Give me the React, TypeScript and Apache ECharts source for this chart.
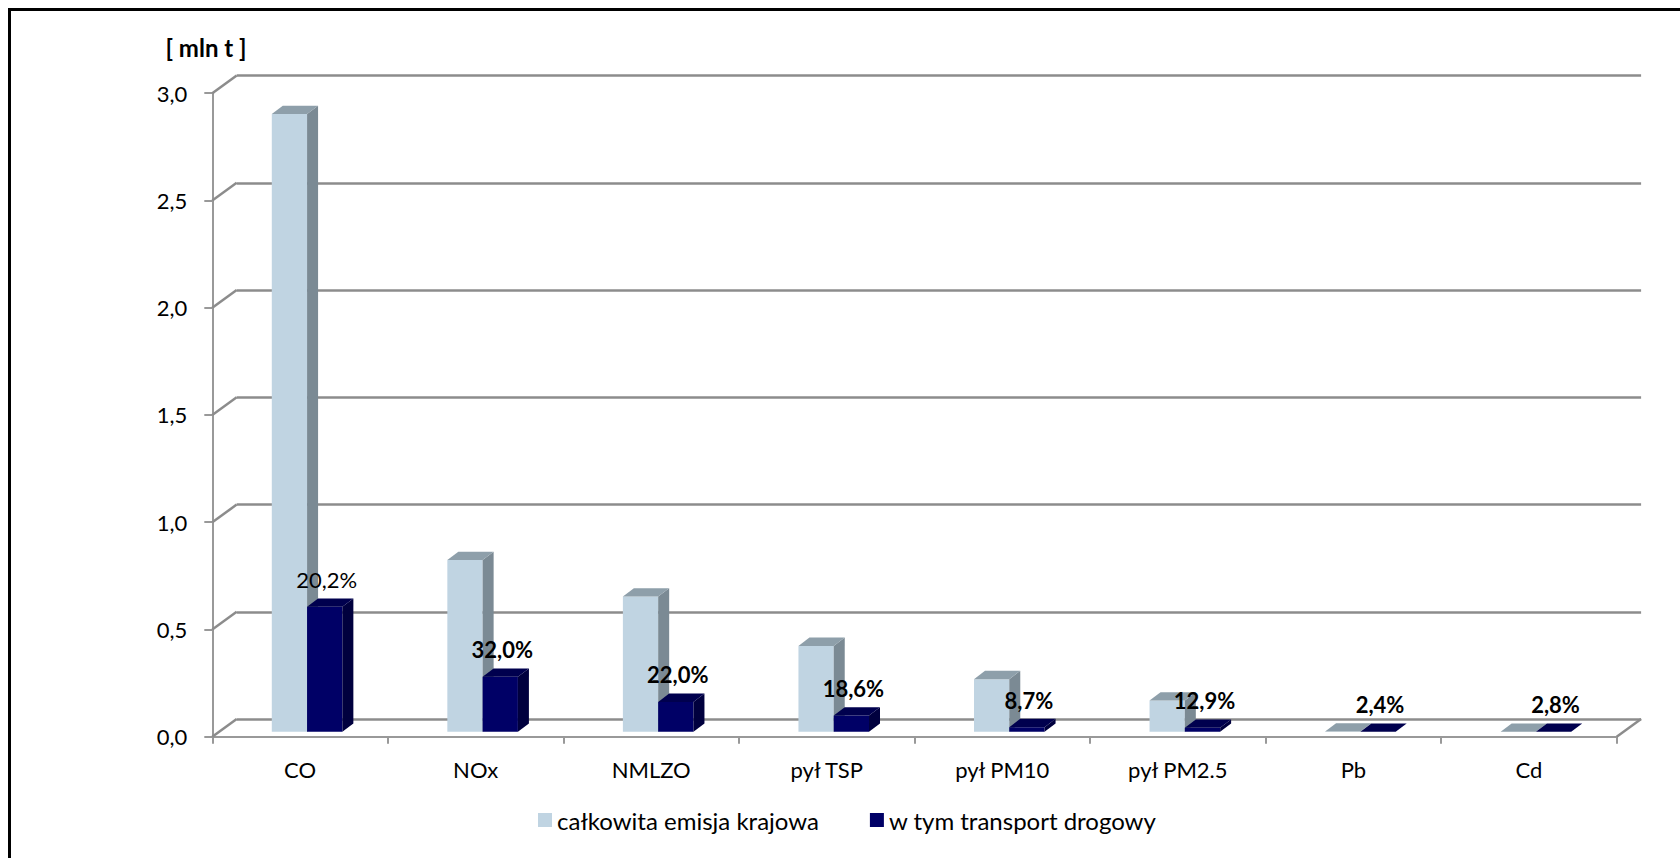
import React, { useEffect, useRef } from "react";
import * as echarts from "echarts";

const categories = ["CO", "NOx", "NMLZO", "pył TSP", "pył PM10", "pył PM2.5", "Pb", "Cd"];
const totalEmission = [2.88, 0.8, 0.63, 0.4, 0.245, 0.145, 0.0005, 0.00002];
const roadTransport = [0.582, 0.256, 0.139, 0.075, 0.0213, 0.0187, 0.000012, 0.0000006];
const shareLabels = ["20,2%", "32,0%", "22,0%", "18,6%", "8,7%", "12,9%", "2,4%", "2,8%"];
const yTicks = [0, 0.5, 1, 1.5, 2, 2.5, 3];
const seriesNames = ["całkowita emisja krajowa", "w tym transport drogowy"];
const unitLabel = "[ mln t ]";

const FONT = "Lato";
const DX = 24.4; // wall depth
const DY = -17.6;
const FDX = 7; // bar front face depth
const FDY = -5;
const BDX = 11; // bar depth
const BDY = -8.3;

const lightColors = { front: "#C0D4E2", side: "#7B8A94", top: "#8E9FAA" };
const darkColors = { front: "#000066", side: "#00003E", top: "#00004E" };

function makeBarRender(side: "left" | "right", colors: any, labels: string[] | null) {
  return (params: any, api: any) => {
    const idx = api.value(0);
    const val = api.value(1);
    const base = api.coord([idx, 0]);
    const top = api.coord([idx, val]);
    const band = api.size([1, 0])[0];
    const w = band * 0.201;
    const cx = base[0] + FDX;
    const xl = side === "left" ? cx - w : cx;
    const xr = xl + w;
    const y0 = base[1] + FDY;
    const y1 = top[1] + FDY;
    const children: any[] = [
      {
        type: "rect",
        shape: { x: xl, y: y1, width: w, height: Math.max(0, y0 - y1) },
        style: { fill: colors.front },
      },
      {
        type: "polygon",
        shape: {
          points: [
            [xr, y1],
            [xr + BDX, y1 + BDY],
            [xr + BDX, y0 + BDY],
            [xr, y0],
          ],
        },
        style: { fill: colors.side },
      },
      {
        type: "polygon",
        shape: {
          points: [
            [xl, y1],
            [xr, y1],
            [xr + BDX, y1 + BDY],
            [xl + BDX, y1 + BDY],
          ],
        },
        style: { fill: colors.top },
      },
    ];
    if (labels) {
      children.push({
        type: "text",
        style: {
          text: labels[params.dataIndex],
          x: (xl + xr) / 2 + 2,
          y: y1 - 27,
          align: "center",
          verticalAlign: "middle",
          fontFamily: FONT,
          fontSize: 22,
          fontWeight: params.dataIndex === 0 ? "normal" : "bold",
          fill: "#000",
        },
        z2: 10,
      });
    }
    return { type: "group", children };
  };
}

export default function App() {
  const ref = useRef<HTMLDivElement>(null);
  useEffect(() => {
    if (!ref.current) return;
    const chart = echarts.init(ref.current, null, { renderer: "svg" });
    const lineColor = "#8C8C8C";
    chart.setOption({
      animation: false,
      backgroundColor: "#fff",
      textStyle: { fontFamily: FONT },
      graphic: [
        {
          type: "rect",
          shape: { x: 9.5, y: 9.5, width: 1700, height: 900 },
          style: { fill: "none", stroke: "#000", lineWidth: 3 },
          silent: true,
        },
        {
          type: "text",
          x: 206,
          y: 47,
          style: {
            text: unitLabel,
            align: "center",
            verticalAlign: "middle",
            fontFamily: FONT,
            fontSize: 24,
            fontWeight: "bold",
            fill: "#000",
          },
        },
      ],
      legend: {
        data: [
          { name: seriesNames[0], itemStyle: { color: lightColors.front } },
          { name: seriesNames[1], itemStyle: { color: darkColors.front } },
        ],
        icon: "rect",
        itemWidth: 14,
        itemHeight: 14,
        itemGap: 51,
        left: 538,
        top: 808,
        padding: 0,
        textStyle: { fontFamily: FONT, fontSize: 24, color: "#000" },
      },
      grid: [
        { left: 212.3, top: 93.2, width: 1404.4, height: 643.5 },
        { left: 212.3 + DX, top: 93.2 + DY, width: 1404.4, height: 643.5 },
      ],
      xAxis: [
        {
          type: "category",
          gridIndex: 0,
          data: categories,
          boundaryGap: true,
          axisLine: { show: true, lineStyle: { color: "#999", width: 2 } },
          axisTick: { show: true, interval: 0, length: 7, lineStyle: { color: "#999", width: 2 } },
          axisLabel: { interval: 0, margin: 22, fontFamily: FONT, fontSize: 22, color: "#000" },
          splitLine: { show: false },
        },
        {
          type: "category",
          gridIndex: 1,
          data: categories,
          show: false,
        },
      ],
      yAxis: [
        {
          type: "value",
          gridIndex: 0,
          min: 0,
          max: 3,
          interval: 0.5,
          axisLine: { show: true, lineStyle: { color: "#999", width: 2 } },
          axisTick: { show: true, length: 8, lineStyle: { color: "#999", width: 2 } },
          axisLabel: {
            margin: 25,
            fontFamily: FONT,
            fontSize: 22,
            color: "#000",
            formatter: (v: number) => v.toFixed(1).replace(".", ","),
          },
          splitLine: { show: false },
        },
        {
          type: "value",
          gridIndex: 1,
          min: 0,
          max: 3,
          interval: 0.5,
          axisLine: { show: false },
          axisTick: { show: false },
          axisLabel: { show: false },
          splitLine: { show: true, lineStyle: { color: lineColor, width: 2.5 } },
        },
      ],
      series: [
        {
          type: "custom",
          name: "frame",
          xAxisIndex: 0,
          yAxisIndex: 0,
          silent: true,
          z: 1,
          data: yTicks.map((v) => [0, v]),
          encode: { x: 0, y: 1 },
          renderItem: (params: any, api: any) => {
            const cs = params.coordSys;
            const v = api.value(1);
            const y = api.coord([0, v])[1];
            const children: any[] = [
              {
                type: "line",
                shape: { x1: cs.x, y1: y, x2: cs.x + DX, y2: y + DY },
                style: { stroke: lineColor, lineWidth: 2.5 },
              },
            ];
            if (v === 0) {
              children.push({
                type: "line",
                shape: { x1: cs.x + cs.width, y1: y, x2: cs.x + cs.width + DX, y2: y + DY },
                style: { stroke: lineColor, lineWidth: 2.5 },
              });
            }
            return { type: "group", children };
          },
        },
        {
          type: "custom",
          name: seriesNames[0],
          xAxisIndex: 0,
          yAxisIndex: 0,
          z: 2,
          itemStyle: { color: lightColors.front },
          data: totalEmission.map((v, i) => [i, v]),
          encode: { x: 0, y: 1 },
          renderItem: makeBarRender("left", lightColors, null),
        },
        {
          type: "custom",
          name: seriesNames[1],
          xAxisIndex: 0,
          yAxisIndex: 0,
          z: 3,
          itemStyle: { color: darkColors.front },
          data: roadTransport.map((v, i) => [i, v]),
          encode: { x: 0, y: 1 },
          renderItem: makeBarRender("right", darkColors, shareLabels),
        },
      ],
    });
    return () => chart.dispose();
  }, []);
  return (
    <div
      ref={ref}
      style={{ position: "fixed", left: 0, top: 0, width: 1680, height: 858 }}
    />
  );
}
